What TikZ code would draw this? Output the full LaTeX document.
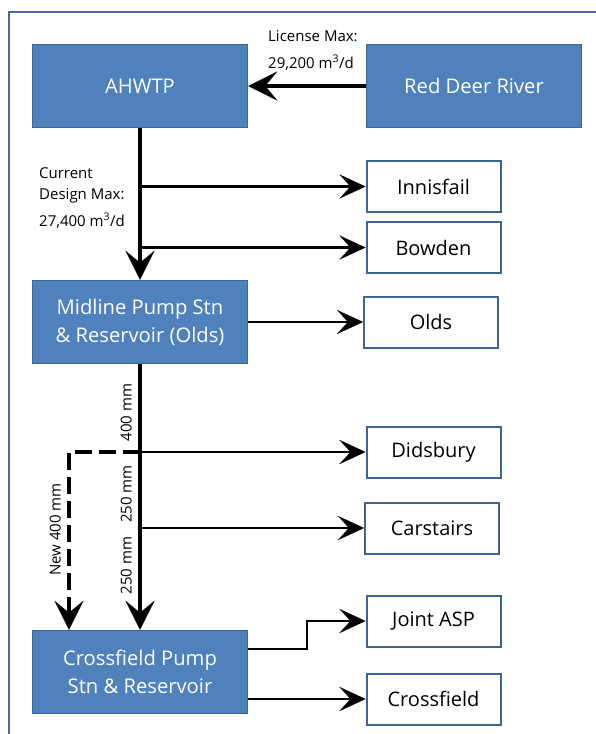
\documentclass[tikz,border=0pt]{standalone}
\usepackage{fontspec}
\setmainfont{Open Sans}
\usetikzlibrary{arrows.meta}
\definecolor{boxblue}{HTML}{4F81BD}
\definecolor{boxedge}{HTML}{3C6495}
\definecolor{frameblue}{HTML}{45699C}
\begin{document}
\begin{tikzpicture}[x=1pt,y=-1pt,
  bluebox/.style={draw=boxedge, line width=1.5pt, fill=boxblue, text=white,
    font=\fontsize{20.2}{28}\selectfont, minimum width=215pt, minimum height=83pt,
    inner sep=0pt, align=center},
  whitebox/.style={draw=boxedge, line width=2pt, fill=white, text=black,
    font=\fontsize{20}{24}\selectfont, minimum width=134pt, minimum height=51pt,
    inner sep=0pt},
  bigflow/.style={line width=4.5pt, -{Stealth[length=29pt,width=29pt,inset=12pt,line width=0.01pt]}},
  smallflow/.style={line width=2.2pt, -{Stealth[length=26pt,width=24pt,inset=11pt,line width=0.01pt]}},
  newpipe/.style={line width=4.5pt, dash pattern=on 17pt off 7pt,
    -{Stealth[length=29pt,width=29pt,inset=12pt,line width=0.01pt]}},
  lbl/.style={font=\fontsize{15}{20}\selectfont, inner sep=0pt, text=black}
]
\useasboundingbox (0,0) rectangle (595,734);
\fill[white] (0,0) rectangle (595,734);
\draw[frameblue, line width=1.6pt] (8.7,12) rectangle (620,760);

% blue boxes
\node[bluebox] (ahwtp) at (140,86) {AHWTP};
\node[bluebox] (river) at (474,86) {Red Deer River};
\node[bluebox] (midline) at (140,322) {Midline Pump Stn\\\& Reservoir (Olds)};
\node[bluebox] (cpump) at (140,672) {Crossfield Pump\\Stn \& Reservoir};

% white boxes
\node[whitebox] (innisfail) at (433.5,186.5) {Innisfail};
\node[whitebox] (bowden) at (433.5,247.5) {Bowden};
\node[whitebox] (olds) at (431,322) {Olds};
\node[whitebox] (didsbury) at (433.5,452) {Didsbury};
\node[whitebox] (carstairs) at (432,528) {Carstairs};
\node[whitebox] (joint) at (433.5,621) {Joint ASP};
\node[whitebox] (crossfield) at (433.5,699) {Crossfield};

% connectors
\draw[bigflow] (river.west) -- (ahwtp.west -| ahwtp.east);
\draw[smallflow] (ahwtp.south |- innisfail.west) -- (innisfail.west);
\draw[smallflow] (ahwtp.south |- bowden.west) -- (bowden.west);
\draw[bigflow] (ahwtp.south) -- (midline.north);
\draw[smallflow] (midline.east |- olds.west) -- (olds.west);
\draw[smallflow] (midline.south |- didsbury.west) -- (didsbury.west);
\draw[smallflow] (midline.south |- carstairs.west) -- (carstairs.west);
\coordinate (dcorner) at (69,452);
\draw[newpipe] (midline.south |- didsbury.west) -- (dcorner) -- (dcorner |- cpump.north);
\draw[bigflow] (midline.south) -- (cpump.north);
\coordinate (jbend) at (307,649);
\draw[smallflow] (cpump.east |- jbend) -- (jbend) -- (jbend |- joint.west) -- (joint.west);
\draw[smallflow] (cpump.east |- crossfield.west) -- (crossfield.west);

% labels
\node[lbl, anchor=base west] (lic1) at (268,41.5) {License Max:};
\node[lbl, anchor=base west] (lic2) at (268,68) {29,200 m\textsuperscript{3}/d};
\node[lbl, anchor=base west] (cur1) at (39,178) {Current};
\node[lbl, anchor=base west] (cur2) at (39,199) {Design Max:};
\node[lbl, anchor=base west] (cur3) at (39,226) {27,400 m\textsuperscript{3}/d};
\node[lbl, anchor=base, rotate=90] (p400) at (131.5,412.5) {400 mm};
\node[lbl, anchor=base, rotate=90] (p250a) at (131.5,494) {250 mm};
\node[lbl, anchor=base, rotate=90] (p250b) at (131.5,565.5) {250 mm};
\node[lbl, anchor=base, rotate=90] (pnew) at (60.5,529.5) {New 400 mm};
\end{tikzpicture}
\end{document}
